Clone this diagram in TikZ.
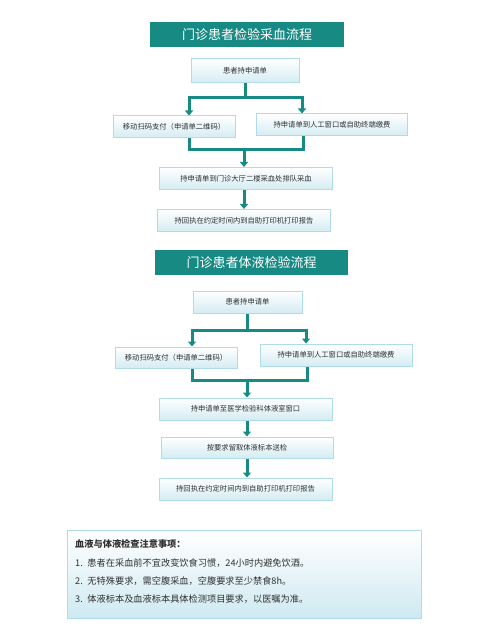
\documentclass[tikz,border=0pt]{standalone}
\usepackage{fontspec}
\setmainfont{Noto Sans CJK SC}
\usetikzlibrary{arrows.meta}
\definecolor{sarcelle}{HTML}{178A84}
\definecolor{bord}{HTML}{B0DCE8}
\definecolor{fond}{HTML}{D4ECF3}
\definecolor{texte}{HTML}{303030}
\tikzset{
	titre/.style={fill=sarcelle, text=white, minimum height=25pt, inner sep=0pt, font=\fontsize{13}{15}\selectfont},
	etape/.style={draw=bord, line width=1pt, top color=white, bottom color=fond, text=texte, minimum height=22pt, inner sep=0pt, font=\fontsize{7.3}{9}\selectfont},
	trait/.style={sarcelle, line width=3pt},
	fleche/.style={sarcelle, line width=3pt, -{Triangle[width=8pt,length=5pt]}},
	ligne/.style={anchor=west, text=texte, inner sep=0pt, font=\fontsize{9.2}{11}\selectfont},
}
\begin{document}
\begin{tikzpicture}[x=1pt, y=-1pt]
	\useasboundingbox (0,0) rectangle (500,636);
	
	% prise de sang
	\node[titre, minimum width=194pt] (titre1) at (247,35) {门诊患者检验采血流程};
	\node[etape, minimum width=108pt, minimum height=24pt] (s1) at (245,71) {患者持申请单};
	\node[etape, minimum width=122pt] (p1g) at (174,127) {移动扫码支付（申请单二维码）};
	\node[etape, minimum width=151pt] (p1d) at (332,125) {持申请单到人工窗口或自助终端缴费};
	\node[etape, minimum width=173pt] (q1) at (246,178.5) {持申请单到门诊大厅二楼采血处排队采血};
	\node[etape, minimum width=173pt] (r1) at (244,220.5) {持回执在约定时间内到自助打印机打印报告};
	
	\coordinate (g1) at (189,98);
	\coordinate (d1) at (302,98);
	\draw[trait] (s1.south) -- (s1.south |- g1);
	\draw[trait, line cap=rect] (g1) -- (d1);
	\draw[fleche] (g1) -- (g1 |- p1g.north);
	\draw[fleche] (d1) -- (d1 |- p1d.north);
	
	\coordinate (g1b) at (189,150);
	\coordinate (d1b) at (303,150);
	\coordinate (m1) at (244,150);
	\draw[trait] (g1b |- p1g.south) -- (g1b);
	\draw[trait] (d1b |- p1d.south) -- (d1b);
	\draw[trait, line cap=rect] (g1b) -- (d1b);
	\draw[fleche] (m1) -- (m1 |- q1.north);
	\draw[fleche] (q1.south -| m1) -- (r1.north -| m1);
	
	% liquides
	\node[titre, minimum width=193pt] (titre2) at (251.5,262.5) {门诊患者体液检验流程};
	\node[etape, minimum width=109pt] (s2) at (247.5,302) {患者持申请单};
	\node[etape, minimum width=122pt, minimum height=21pt] (p2g) at (176,357.5) {移动扫码支付（申请单二维码）};
	\node[etape, minimum width=152pt] (p2d) at (336,355) {持申请单到人工窗口或自助终端缴费};
	\node[etape, minimum width=173pt] (q2) at (245.5,409) {持申请单至医学检验科体液室窗口};
	\node[etape, minimum width=172pt, minimum height=21pt] (t2) at (247,447.5) {按要求留取体液标本送检};
	\node[etape, minimum width=173pt] (r2) at (245.5,489) {持回执在约定时间内到自助打印机打印报告};
	
	\coordinate (g2) at (192,330);
	\coordinate (d2) at (306,330);
	\draw[trait] (s2.south) -- (s2.south |- g2);
	\draw[trait, line cap=rect] (g2) -- (d2);
	\draw[fleche] (g2) -- (g2 |- p2g.north);
	\draw[fleche] (d2) -- (d2 |- p2d.north);
	
	\coordinate (g2b) at (192,380);
	\coordinate (d2b) at (307,380);
	\coordinate (m2) at (247,380);
	\draw[trait] (g2b |- p2g.south) -- (g2b);
	\draw[trait] (d2b |- p2d.south) -- (d2b);
	\draw[trait, line cap=rect] (g2b) -- (d2b);
	\draw[fleche] (m2) -- (m2 |- q2.north);
	\draw[fleche] (q2.south -| m2) -- (t2.north -| m2);
	\draw[fleche] (t2.south -| m2) -- (r2.north -| m2);
	
	% remarques
	\node[draw=bord, line width=1pt, top color=white, bottom color=fond!85!bord, minimum width=354pt, minimum height=88pt] (notes) at (244,574) {};
	\node[ligne, font=\fontsize{9.2}{11}\selectfont\bfseries] (n0) at (75,544) {血液与体液检查注意事项：};
	\node[ligne] (n1) at (75,563) {1.\enspace 患者在采血前不宜改变饮食习惯，24小时内避免饮酒。};
	\node[ligne] (n2) at (75,581) {2.\enspace 无特殊要求，需空腹采血，空腹要求至少禁食8h。};
	\node[ligne] (n3) at (75,599) {3.\enspace 体液标本及血液标本具体检测项目要求，以医嘱为准。};
	
\end{tikzpicture}
\end{document}
